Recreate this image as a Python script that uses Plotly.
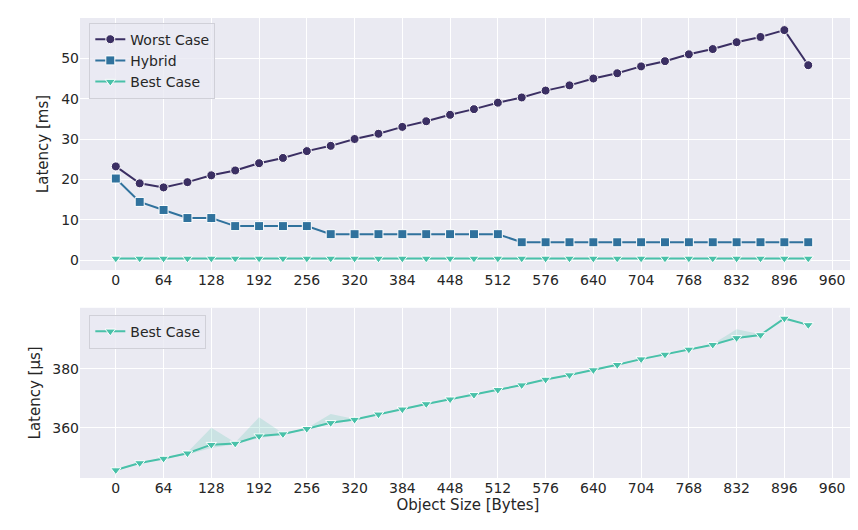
import plotly.graph_objects as go
from plotly.subplots import make_subplots

sizes = list(range(0, 929, 32))
worst = [23.2, 19, 18, 19.3, 21, 22.2, 24, 25.3, 27, 28.3, 30, 31.3, 33, 34.4, 36,
         37.4, 39, 40.3, 42, 43.3, 45, 46.3, 48, 49.3, 51, 52.3, 54, 55.3, 57, 48.3]
hybrid = [20.2, 14.4, 12.4, 10.4, 10.4, 8.4, 8.4, 8.4, 8.4] + [6.4] * 8 + [4.4] * 13
best_ms = [0.4] * 30
best_us = [345.7, 348.1, 349.6, 351.4, 354.3, 354.7, 357.2, 357.9, 359.7, 361.7,
           362.8, 364.6, 366.3, 368.1, 369.7, 371.2, 372.9, 374.5, 376.4, 377.9,
           379.6, 381.4, 383.3, 384.9, 386.6, 388.2, 390.5, 391.5, 397.1, 394.9]
best_hi = [345.9, 348.3, 349.8, 351.7, 360.0, 355.0, 363.6, 358.2, 359.9, 364.7,
           363.0, 364.8, 366.5, 368.3, 369.9, 371.4, 373.1, 374.7, 376.6, 378.1,
           379.8, 381.6, 383.5, 385.1, 386.8, 388.4, 393.4, 391.7, 397.3, 395.1]
best_lo = [345.5, 347.9, 349.4, 351.0, 353.2, 354.4, 356.6, 357.6, 359.5, 361.3,
           362.6, 364.4, 366.1, 367.9, 369.5, 371.0, 372.7, 374.3, 376.2, 377.7,
           379.4, 381.2, 383.1, 384.7, 386.4, 388.0, 390.1, 391.3, 396.9, 394.7]
ticks = list(range(0, 961, 64))

c_worst, c_hyb, c_best = "#3b2f63", "#30729d", "#49c1a9"

fig = make_subplots(rows=2, cols=1, vertical_spacing=0.08, row_heights=[0.6, 0.4])

def mk(color, sym):
    return dict(color=color, symbol=sym, size=9, line=dict(color="white", width=1))

fig.add_trace(go.Scatter(x=sizes, y=worst, name="Worst Case", mode="lines+markers",
                         line=dict(color=c_worst, width=2), marker=mk(c_worst, "circle")), 1, 1)
fig.add_trace(go.Scatter(x=sizes, y=hybrid, name="Hybrid", mode="lines+markers",
                         line=dict(color=c_hyb, width=2), marker=mk(c_hyb, "square")), 1, 1)
fig.add_trace(go.Scatter(x=sizes, y=best_ms, name="Best Case", mode="lines+markers",
                         line=dict(color=c_best, width=2), marker=mk(c_best, "triangle-down")), 1, 1)

fig.add_trace(go.Scatter(x=sizes, y=best_hi, mode="lines", line=dict(width=0),
                         showlegend=False, hoverinfo="skip"), 2, 1)
fig.add_trace(go.Scatter(x=sizes, y=best_lo, mode="lines", line=dict(width=0),
                         fill="tonexty", fillcolor="rgba(73,193,169,0.2)",
                         showlegend=False, hoverinfo="skip"), 2, 1)
fig.add_trace(go.Scatter(x=sizes, y=best_us, name="Best Case", mode="lines+markers",
                         line=dict(color=c_best, width=2), marker=mk(c_best, "triangle-down"),
                         legend="legend2"), 2, 1)

ax = dict(gridcolor="white", gridwidth=1.2, zeroline=False, showline=False, ticks="",
          tickfont=dict(size=14, color="#262626"), automargin=False)
fig.update_xaxes(**ax, tickvals=ticks, range=[-48, 992])
fig.update_yaxes(**ax)
fig.update_yaxes(range=[-2.5, 60], tickvals=[0, 10, 20, 30, 40, 50], row=1, col=1,
                 title=dict(text="Latency [ms]", font=dict(size=15), standoff=8))
fig.update_yaxes(range=[343, 400.7], tickvals=[360, 380], row=2, col=1,
                 title=dict(text="Latency [µs]", font=dict(size=15), standoff=8))
fig.update_xaxes(row=2, col=1, title=dict(text="Object Size [Bytes]", font=dict(size=15), standoff=4))
fig.update_xaxes(domain=[0, 1])
fig.update_yaxes(domain=[0.452, 1], row=1, col=1)
fig.update_yaxes(domain=[0, 0.37], row=2, col=1)

leg = dict(bgcolor="rgba(234,234,242,0.8)", bordercolor="#d0d0d8", borderwidth=1,
           font=dict(size=14, color="#262626"), xanchor="left", yanchor="top",
           traceorder="normal")
fig.update_layout(
    width=858, height=530, template="none",
    font=dict(family="DejaVu Sans", color="#262626"),
    plot_bgcolor="#EAEAF2", paper_bgcolor="white",
    margin=dict(l=72, r=10, t=10, b=60),
    legend=dict(**leg, x=0.012, y=0.99),
    legend2=dict(**leg, x=0.012, y=0.355),
)
fig.write_html("out.html")
